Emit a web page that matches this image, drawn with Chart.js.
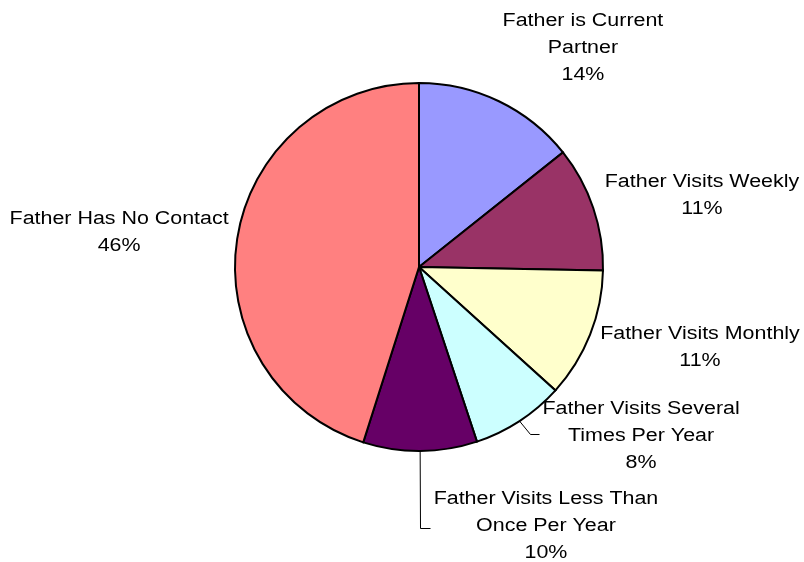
<!DOCTYPE html>
<html>
<head>
<meta charset="utf-8">
<script src="https://cdn.jsdelivr.net/npm/chart.js@4/dist/chart.umd.min.js"></script>
<style>
  html, body { margin: 0; padding: 0; background: #fff; }
  #wrap { width: 804px; height: 562px; }
</style>
</head>
<body>
<div id="wrap"><canvas id="myChart" width="804" height="562"></canvas></div>
<script>
'use strict';

// slices clockwise from 12 o'clock
let categories = [
  ['Father is Current', 'Partner'],
  ['Father Visits Weekly'],
  ['Father Visits Monthly'],
  ['Father Visits Several', 'Times Per Year'],
  ['Father Visits Less Than', 'Once Per Year'],
  ['Father Has No Contact']
];
let shares = [14.3, 11.0, 11.4, 8.2, 10.0, 45.1];
let percentLabels = ['14%', '11%', '11%', '8%', '10%', '46%'];
let sliceColors = ['#9999FF', '#993366', '#FFFFCC', '#CCFFFF', '#660066', '#FF8080'];

// where each label block sits, in radius units from the pie centre
let labelSpots = [
  [0.891, -1.19], [1.538, -0.391], [1.527, 0.438],
  [1.207, 0.921], [0.69, 1.408], [-1.63, -0.188]
];
// leader lines: elbow and end point (radius units), null = none
let leaders = [null, null, null,
  [[0.603, 0.908], [0.652, 0.908]],
  [[0.005, 1.418], [0.06, 1.418]],
  null];

let labelPlugin = {
  id: 'outsideLabels',
  afterDraw(chart) {
    let ctx = chart.ctx;
    let arcs = chart.getDatasetMeta(0).data;
    ctx.save();
    ctx.fillStyle = '#000';
    ctx.textAlign = 'center';
    ctx.textBaseline = 'middle';
    ctx.font = '18px "Liberation Sans", Arial, sans-serif';
    let lineH = 27;
    arcs.forEach(function (arc, i) {
      let cx = arc.x, cy = arc.y, r = arc.outerRadius;
      let lines = categories[i].concat([percentLabels[i]]);
      let bx = cx + labelSpots[i][0] * r;
      let by = cy + labelSpots[i][1] * r;
      let top = by - (lines.length - 1) * lineH / 2;
      lines.forEach(function (txt, k) {
        ctx.save();
        ctx.translate(bx, top + k * lineH);
        ctx.scale(1.19, 1);
        ctx.fillText(txt, 0, 0);
        ctx.restore();
      });
      if (leaders[i]) {
        let mid = (arc.startAngle + arc.endAngle) / 2;
        ctx.beginPath();
        ctx.strokeStyle = '#000';
        ctx.lineWidth = 1;
        ctx.moveTo(cx + Math.cos(mid) * r, cy + Math.sin(mid) * r);
        leaders[i].forEach(function (p) {
          ctx.lineTo(Math.round(cx + p[0] * r) + 0.5, Math.round(cy + p[1] * r) + 0.5);
        });
        ctx.stroke();
      }
    });
    ctx.restore();
  }
};

let ctx = document.getElementById('myChart').getContext('2d');
let chart = new Chart(ctx, {
  type: 'pie',
  data: {
    labels: categories.map(function (c) { return c.join(' '); }),
    datasets: [{
      data: shares,
      backgroundColor: sliceColors,
      borderColor: '#000',
      borderWidth: 2,
      borderJoinStyle: 'miter'
    }]
  },
  options: {
    responsive: false,
    animation: false,
    layout: { padding: { left: 234, right: 200, top: 82, bottom: 110 } },
    plugins: {
      legend: { display: false },
      tooltip: { enabled: false }
    }
  },
  plugins: [labelPlugin]
});
</script>
</body>
</html>
